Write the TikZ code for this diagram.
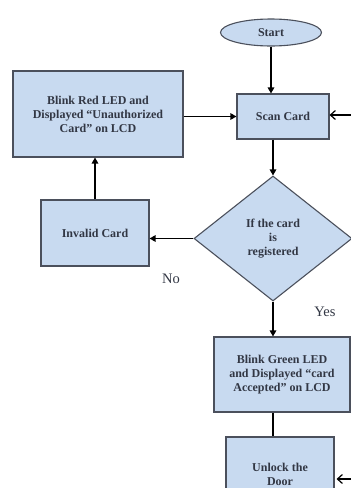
\documentclass[tikz,border=0pt]{standalone}
\usepackage{fontspec}
\setmainfont{Liberation Serif}
\usetikzlibrary{shapes.geometric,arrows.meta}

\definecolor{boxfill}{RGB}{200,218,240}
\definecolor{boxline}{RGB}{75,80,92}
\definecolor{boxtext}{RGB}{50,55,68}

\tikzset{
    block/.style={draw=boxline, fill=boxfill, line width=1.1pt, rectangle, inner sep=0pt,
        align=center, text=boxtext, font=\bfseries\fontsize{12}{14}\selectfont},
    terminal/.style={block, ellipse},
    decision/.style={block, diamond},
    flow/.style={line width=1.4pt, -{Triangle[length=6pt,width=6.5pt]}},
    entry/.style={line width=1.2pt, -{Straight Barb[length=5pt,width=9pt]}},
    answer/.style={font=\fontsize{14.5}{16}\selectfont, text=boxtext}
}

\begin{document}
\begin{tikzpicture}[x=1pt, y=-1pt]
        \useasboundingbox (0,0) rectangle (351,488);
        \clip (0,0) rectangle (351,488);
        \fill[white] (0,0) rectangle (351,488);

        \node[terminal, minimum width=101pt, minimum height=27pt] (start) at (271,32.5) {Start};
        \node[block, minimum width=92pt, minimum height=45pt] (scan) at (283,116.5) {Scan Card};
        \node[block, minimum width=170pt, minimum height=86pt] (redled) at (98,114)
            {Blink Red LED and\\Displayed “Unauthorized\\Card” on LCD};
        \node[decision, minimum width=158pt, minimum height=125pt] (check) at (273,238.5)
            {If the card\\is\\registered};
        \node[block, minimum width=108pt, minimum height=66pt] (invalid) at (95,233) {Invalid Card};
        \node[block, minimum width=136pt, minimum height=75pt] (greenled) at (282,374.5)
            {Blink Green LED\\and Displayed “card\\Accepted” on LCD};
        \node[block, minimum width=108pt, minimum height=74pt] (unlock) at (280,474) {Unlock the\\Door};

        \node[answer] (no) at (171,279) {No};
        \node[answer] (yes) at (325,312) {Yes};

        \coordinate (loopa) at (352,115);
        \coordinate (loopb) at (352,479);

        \draw[flow] (start.south) -- (start.south |- scan.north);
        \draw[flow] (check.north |- scan.south) -- (check.north);
        \draw[flow] (redled.east |- scan.west) -- (scan.west);
        \draw[flow] (check.west) -- (invalid.east |- check.west);
        \draw[flow] (invalid.north) -- (invalid.north |- redled.south);
        \draw[flow] (check.south) -- (check.south |- greenled.north);
        \draw[line width=1.4pt] (check.south |- greenled.south) -- (check.south |- unlock.north);
        \draw[entry] (loopa) -- (scan.east |- loopa);
        \draw[entry] (loopb) -- ([xshift=2pt]unlock.east |- loopb);
    \end{tikzpicture}
\end{document}
